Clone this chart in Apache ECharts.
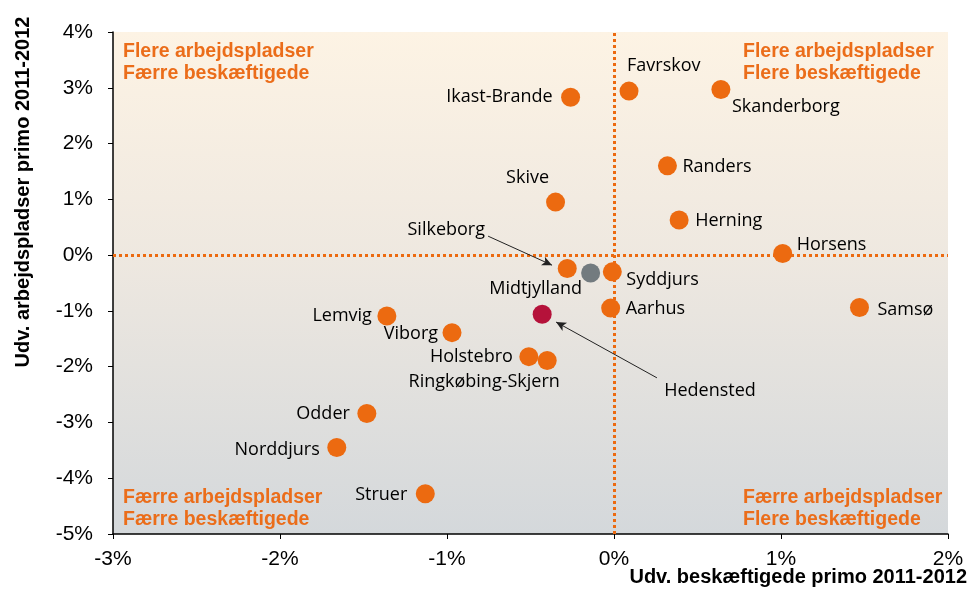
<!DOCTYPE html>
<html>
<head>
<meta charset="utf-8">
<script src="https://cdn.jsdelivr.net/npm/echarts@6/dist/echarts.min.js"></script>
<style>
  html, body { margin: 0; padding: 0; background: #fff; }
  #container { width: 972px; height: 594px; }
</style>
</head>
<body>
<div id="container"></div>
<script>
// kommuner og deres udvikling (%)
var names = ['Ikast-Brande', 'Favrskov', 'Skanderborg', 'Randers', 'Skive', 'Herning', 'Horsens',
    'Silkeborg', 'Midtjylland', 'Syddjurs', 'Aarhus', 'Samsø', 'Hedensted', 'Lemvig', 'Viborg',
    'Holstebro', 'Ringkøbing-Skjern', 'Odder', 'Norddjurs', 'Struer'];
var beskaeftigede = [-0.26, 0.09, 0.64, 0.32, -0.35, 0.39, 1.01,
    -0.28, -0.14, -0.01, -0.02, 1.47, -0.43, -1.36, -0.97,
    -0.51, -0.40, -1.48, -1.66, -1.13];
var arbejdspladser = [2.83, 2.94, 2.97, 1.60, 0.95, 0.63, 0.03,
    -0.24, -0.32, -0.30, -0.95, -0.94, -1.06, -1.09, -1.39,
    -1.82, -1.89, -2.84, -3.45, -4.28];
var xTicks = [-3, -2, -1, 0, 1, 2];
var yTicks = [-5, -4, -3, -2, -1, 0, 1, 2, 3, 4];

// pile fra etiket til punkt (data-koordinater)
var arrows = [
    [[-0.754, 0.34], [-0.371, -0.18]],   // Silkeborg
    [[0.257, -2.20], [-0.347, -1.20]]    // Hedensted
];

var quadrants = [
    { text: 'Flere arbejdspladser\nFærre beskæftigede', left: 123, top: 41 },
    { text: 'Flere arbejdspladser\nFlere beskæftigede', left: 743, top: 41 },
    { text: 'Færre arbejdspladser\nFærre beskæftigede', left: 123, top: 487 },
    { text: 'Færre arbejdspladser\nFlere beskæftigede', left: 743, top: 487 }
];

// etiketplacering: [align, dx, dy] fra punktets centrum
var labelPlace = {
    'Ikast-Brande': ['right', -18, 0],
    'Favrskov': ['left', -2, -25],
    'Skanderborg': ['left', 11, 17],
    'Randers': ['left', 15, 1],
    'Skive': ['center', -28, -24],
    'Herning': ['left', 16, 1],
    'Horsens': ['left', 14, -9],
    'Silkeborg': ['center', -121, -39],
    'Midtjylland': ['center', -55, 16],
    'Syddjurs': ['left', 14, 8],
    'Aarhus': ['left', 15, 1],
    'Samsø': ['left', 18, 2],
    'Hedensted': ['left', 122, 77],
    'Lemvig': ['right', -15, 0],
    'Viborg': ['right', -14, 1],
    'Holstebro': ['right', -16, 0],
    'Ringkøbing-Skjern': ['center', -63, 21],
    'Odder': ['right', -17, 0],
    'Norddjurs': ['right', -17, 2],
    'Struer': ['right', -18, 1]
};

var orange = '#EC6A10';
var specialColor = { 'Midtjylland': '#737B7F', 'Hedensted': '#B5123A' };

var points = [];
for (var i = 0; i < names.length; i++) {
    var p = labelPlace[names[i]];
    points.push({
        name: names[i],
        value: [beskaeftigede[i], arbejdspladser[i]],
        itemStyle: { color: specialColor[names[i]] || orange, opacity: 1 },
        label: { align: p[0], offset: [p[1], p[2]] }
    });
}

var arrowData = arrows.map(function (a) {
    return [{ coord: a[0] }, { coord: a[1] }];
});

var dom = document.getElementById('container');
var myChart = echarts.init(dom);

var option = {
    backgroundColor: '#fff',
    animation: false,
    grid: {
        left: 113, right: 24, top: 32, bottom: 60,
        show: true,
        borderWidth: 0,
        backgroundColor: new echarts.graphic.LinearGradient(0, 0, 0, 1, [
            { offset: 0, color: '#FDF3E4' },
            { offset: 0.45, color: '#EEE8E0' },
            { offset: 1, color: '#D4D8DB' }
        ])
    },
    xAxis: {
        type: 'value',
        min: xTicks[0], max: xTicks[xTicks.length - 1], interval: 1,
        axisLine: { show: true, onZero: false, lineStyle: { color: '#000', width: 1.5 } },
        axisTick: { show: true, length: 5, lineStyle: { color: '#000' } },
        axisLabel: { formatter: '{value}%', color: '#000', fontSize: 21, fontFamily: 'Liberation Sans, Arial', margin: 15 },
        splitLine: { show: false }
    },
    yAxis: {
        type: 'value',
        min: yTicks[0], max: yTicks[yTicks.length - 1], interval: 1,
        axisLine: { show: true, onZero: false, lineStyle: { color: '#000', width: 1.5 } },
        axisTick: { show: true, length: 5, lineStyle: { color: '#000' } },
        axisLabel: { formatter: '{value}%', color: '#000', fontSize: 21, fontFamily: 'Liberation Sans, Arial', margin: 20 },
        splitLine: { show: false }
    },
    graphic: [{
        type: 'text',
        x: 23, y: 192,
        rotation: Math.PI / 2,
        style: {
            text: 'Udv. arbejdspladser primo 2011-2012',
            font: 'bold 20px "Liberation Sans", Arial',
            fill: '#000',
            align: 'center',
            verticalAlign: 'middle'
        }
    }, {
        type: 'text',
        right: 5, top: 567,
        style: {
            text: 'Udv. beskæftigede primo 2011-2012',
            font: 'bold 20px "Liberation Sans", Arial',
            fill: '#000'
        }
    }].concat(quadrants.map(function (q) {
        return {
            type: 'text',
            left: q.left, top: q.top,
            style: {
                text: q.text,
                font: 'bold 19.5px "Liberation Sans", Arial',
                fill: '#EB6D1A',
                lineHeight: 22
            }
        };
    })),
    series: [{
        name: 'Kommuner',
        type: 'scatter',
        symbolSize: 19,
        data: points,
        label: {
            show: true,
            position: 'inside',
            formatter: '{b}',
            color: '#000',
            textBorderWidth: 0,
            fontSize: 18,
            fontFamily: 'Open Sans'
        },
        emphasis: { disabled: true },
        markLine: {
            silent: true,
            symbol: 'none',
            label: { show: false },
            lineStyle: { color: orange, width: 3, type: [3, 3] },
            data: [{ xAxis: 0 }, { yAxis: 0 }]
        },
        z: 3
    }, {
        name: 'Pile',
        type: 'scatter',
        data: [],
        markLine: {
            silent: true,
            symbol: ['none', 'arrow'],
            symbolSize: [7, 10],
            label: { show: false },
            lineStyle: { color: '#222', width: 1, type: 'solid' },
            data: arrowData
        }
    }]
};

if (option && typeof option === "object") {
    myChart.setOption(option, true);
}
</script>
</body>
</html>
